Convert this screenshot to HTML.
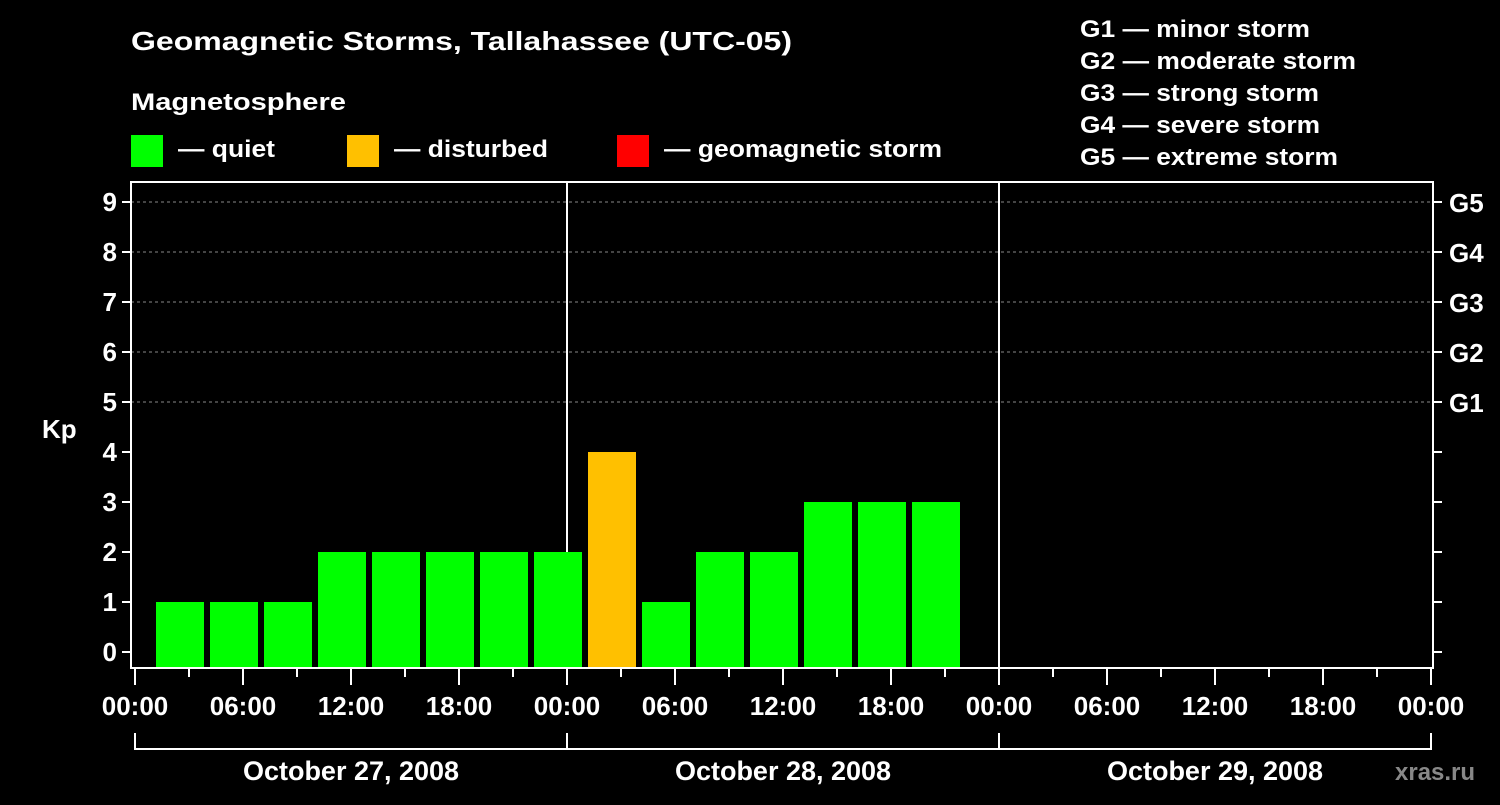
<!DOCTYPE html>
<html><head><meta charset="utf-8"><style>
html,body{margin:0;padding:0;background:#000;}
svg text{font-family:"Liberation Sans",Arial,sans-serif;font-weight:bold;fill:#fff;}
</style></head><body>
<svg id="chart" width="1500" height="800" xmlns="http://www.w3.org/2000/svg" font-family="Liberation Sans, Arial, sans-serif" font-weight="bold">
<rect width="1500" height="800" fill="#000"/>
<text x="131" y="50" font-size="26" textLength="661" lengthAdjust="spacingAndGlyphs">Geomagnetic Storms, Tallahassee (UTC-05)</text>
<text x="131" y="110" font-size="24" textLength="215" lengthAdjust="spacingAndGlyphs">Magnetosphere</text>
<g><rect x="131" y="135" width="32" height="32" fill="#00ff00"/><text x="178" y="157" font-size="24" textLength="97" lengthAdjust="spacingAndGlyphs">— quiet</text></g>
<g><rect x="347" y="135" width="32" height="32" fill="#ffc000"/><text x="394" y="157" font-size="24" textLength="154" lengthAdjust="spacingAndGlyphs">— disturbed</text></g>
<g><rect x="617" y="135" width="32" height="32" fill="#ff0000"/><text x="664" y="157" font-size="24" textLength="278" lengthAdjust="spacingAndGlyphs">— geomagnetic storm</text></g>
<g font-size="24">
<text x="1080" y="37" textLength="230" lengthAdjust="spacingAndGlyphs">G1 — minor storm</text>
<text x="1080" y="69" textLength="276" lengthAdjust="spacingAndGlyphs">G2 — moderate storm</text>
<text x="1080" y="101" textLength="239" lengthAdjust="spacingAndGlyphs">G3 — strong storm</text>
<text x="1080" y="133" textLength="240" lengthAdjust="spacingAndGlyphs">G4 — severe storm</text>
<text x="1080" y="165" textLength="258" lengthAdjust="spacingAndGlyphs">G5 — extreme storm</text>
</g>
<text x="42" y="438" font-size="26">Kp</text>
<g id="plot"></g>
<text x="1395" y="780" font-size="24" style="fill:#888">xras.ru</text>
</svg>
<script>
const kpValues=[1,1,1,2,2,2,2,2,4,1,2,2,3,3,3];
const yTicks=[0,1,2,3,4,5,6,7,8,9];
const gLabels=["G1","G2","G3","G4","G5"];
const xLabels=["00:00","06:00","12:00","18:00","00:00","06:00","12:00","18:00","00:00","06:00","12:00","18:00","00:00"];
const dayLabels=["October 27, 2008","October 28, 2008","October 29, 2008"];
const firstBarHour=1;
(function(){
const NS="http://www.w3.org/2000/svg";
const g=document.getElementById('plot');
const x0=135,pxH=18,pLeft=131,pRight=1433,pTop=182,pBottom=668;
const X=h=>x0+h*pxH;
const Y=v=>652-v*50;
function mk(t,a){const e=document.createElementNS(NS,t);for(const k in a)e.setAttribute(k,a[k]);g.appendChild(e);return e;}
for(let v=5;v<=9;v++){const l=mk('line',{x1:pLeft,x2:pRight,y1:Y(v),y2:Y(v),stroke:'#888','stroke-dasharray':'3,3','stroke-width':1});

}
for(let d=1;d<3;d++){const l=mk('line',{x1:X(24*d),x2:X(24*d),y1:pTop,y2:pBottom,stroke:'#fff','stroke-width':2});

}
kpValues.forEach((v,i)=>{const c=v>=5?'#ff0000':(v>=4?'#ffc000':'#00ff00');
const r=mk('rect',{x:X(firstBarHour+3*i)+3,y:Y(v),width:48,height:pBottom-Y(v),fill:c});

});
const f=mk('rect',{x:pLeft,y:pTop,width:pRight-pLeft,height:pBottom-pTop,fill:'none',stroke:'#fff','stroke-width':2});


yTicks.forEach(v=>{mk('line',{x1:pLeft-9,x2:pLeft,y1:Y(v),y2:Y(v),stroke:'#fff','stroke-width':2});
mk('line',{x1:pRight,x2:pRight+9,y1:Y(v),y2:Y(v),stroke:'#fff','stroke-width':2});
const t=mk('text',{x:pLeft-14,y:Y(v)+9,'font-size':26,'text-anchor':'end'});t.textContent=v;

});
gLabels.forEach((s,i)=>{const t=mk('text',{x:1449,y:Y(5+i)+10,'font-size':26});t.textContent=s;

});
for(let h=0;h<=72;h+=3){const major=h%6===0;mk('line',{x1:X(h),x2:X(h),y1:pBottom,y2:pBottom+(major?17:9),stroke:'#fff','stroke-width':2});}
xLabels.forEach((s,i)=>{const t=mk('text',{x:X(6*i),y:715,'font-size':26,'text-anchor':'middle'});t.textContent=s;

});
mk('line',{x1:X(0),x2:X(72),y1:749,y2:749,stroke:'#fff','stroke-width':2});
for(let d=0;d<=3;d++)mk('line',{x1:X(24*d),x2:X(24*d),y1:733,y2:750,stroke:'#fff','stroke-width':2});
dayLabels.forEach((s,i)=>{const t=mk('text',{x:X(24*i+12),y:780,'font-size':27,'text-anchor':'middle'});t.textContent=s;

});
})();
</script>
</body></html>
